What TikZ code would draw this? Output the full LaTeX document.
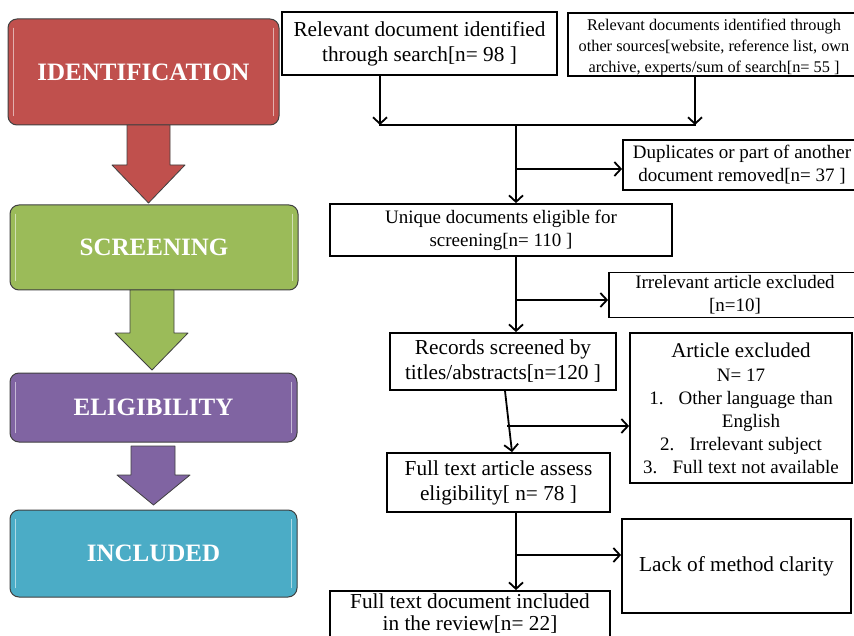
\documentclass[tikz,border=0pt]{standalone}
\usepackage{fontspec}
\setmainfont{Liberation Serif}
\usetikzlibrary{arrows.meta}
\definecolor{stRed}{HTML}{C0504D}
\definecolor{stGreen}{HTML}{9BBB59}
\definecolor{stPurple}{HTML}{8064A2}
\definecolor{stTeal}{HTML}{4BACC6}
\begin{document}
\begin{tikzpicture}[x=1pt,y=-1pt,
  fbox/.style={draw, line width=1.8pt, inner sep=0pt, align=center},
  big/.style={font=\fontsize{21.3}{25}\selectfont},
  mid/.style={font=\fontsize{19}{23}\selectfont},
  small/.style={font=\fontsize{16.3}{21}\selectfont},
  conn/.style={line width=1.8pt},
  arr/.style={line width=1.8pt, -{Straight Barb[length=6.5pt,width=14pt]}},
  stage/.style={rounded corners=9pt, draw=black!75, line width=1pt, text=white,
     font=\fontsize{25}{30}\selectfont\bfseries, inner sep=0pt},
  blockarr/.style={draw=black!75, line width=0.8pt, line join=round},
  gloss/.style={white, opacity=.55, line width=1.5pt, line cap=round}]
\useasboundingbox (0,0) rectangle (854,636);
\fill[white] (0,0) rectangle (854,636);

% ---------- stage boxes ----------
\node[stage, fill=stRed, minimum width=271pt, minimum height=106pt] (id) at (143.5,72) {IDENTIFICATION};
\node[stage, fill=stGreen, minimum width=288pt, minimum height=85pt] (sc) at (154,247.5) {SCREENING};
\node[stage, fill=stPurple, minimum width=287pt, minimum height=69pt] (el) at (153.5,407.5) {ELIGIBILITY};
\node[stage, fill=stTeal, minimum width=287pt, minimum height=87pt] (inc) at (153.5,553.5) {INCLUDED};
\foreach \n in {id,sc,el,inc}{
  \draw[gloss] ([xshift=6pt,yshift=-10pt]\n.north west) -- ([xshift=6pt,yshift=10pt]\n.south west);
  \draw[gloss] ([xshift=-6pt,yshift=-10pt]\n.north east) -- ([xshift=-6pt,yshift=10pt]\n.south east);
}
% ---------- block arrows ----------
\draw[blockarr, fill=stRed] (127,125) -- (170,125) -- (170,165) -- (185,165) -- (148.5,203) -- (112,165) -- (127,165) -- cycle;
\draw[blockarr, fill=stGreen] (130,290) -- (174,290) -- (174,333) -- (188,333) -- (152,370) -- (115,333) -- (130,333) -- cycle;
\draw[blockarr, fill=stPurple] (131,446) -- (175,446) -- (175,475) -- (190,475) -- (153.5,505) -- (117,475) -- (131,475) -- cycle;

% ---------- flow boxes ----------
\node[fbox, big, minimum width=275pt, minimum height=63pt] (b1) at (419.5,43.5)
  {Relevant document identified\\through search[n= 98 ]};
\node[fbox, small, minimum width=292pt, minimum height=63pt] (b2) at (714,44.5)
  {\rule{0pt}{18pt}Relevant documents identified through\\other sources[website, reference list, own\\archive, experts/sum of search[n= 55 ]};
\node[fbox, mid, minimum width=238pt, minimum height=50pt] (dup) at (742,165)
  {Duplicates or part of another\\document removed[n= 37 ]};
\node[fbox, mid, minimum width=342pt, minimum height=52pt] (b3) at (501,230)
  {Unique documents eligible for\\screening[n= 110 ]};
\node[fbox, mid, minimum width=252pt, minimum height=45pt] (irr) at (735,295)
  {Irrelevant article excluded\\{[n=10]}};
\node[fbox, big, minimum width=226pt, minimum height=57pt] (rec) at (503,361.5)
  {Records screened by\\titles/abstracts[n=120 ]};
\node[fbox, mid, minimum width=222pt, minimum height=150pt] (art) at (741,408)
  {{\fontsize{21}{25}\selectfont Article excluded}\\[1pt]
   N= 17\\
   1.\hspace{0.8em}Other language than\\
   \hspace*{20pt}English\\
   2.\hspace{0.8em}Irrelevant subject\\
   3.\hspace{0.8em}Full text not available};
\node[fbox, big, minimum width=223pt, minimum height=59pt] (ft) at (498.5,482.5)
  {Full text article assess\\eligibility[ n= 78 ]};
\node[fbox, big, minimum width=229pt, minimum height=94pt] (lack) at (736.5,566)
  {Lack of method clarity};
\node[fbox, font=\fontsize{21.3}{22.5}\selectfont, minimum width=280pt, minimum height=52pt] (fin) at (470,617)
  {Full text document included\\in the review[n= 22]\rule[-10pt]{0pt}{0pt}};

% ---------- connectors ----------
\coordinate (j1) at (380,125);
\coordinate (j2) at (695,125);
\coordinate (m1) at (516,126);
\coordinate (br1) at (516,169);
\coordinate (br2) at (516,300);
\coordinate (s1) at (505,390);
\coordinate (s2) at (512,453);
\coordinate (br3) at (507,426);
\coordinate (br4) at (516,555);

\draw[arr] (b1.south -| j1) -- (j1);
\draw[arr] (b2.south -| j2) -- (j2);
\draw[conn] ([xshift=-0.9pt]j1) -- ([xshift=0.9pt]j2);
\draw[arr] (m1) -- (b3.north -| m1);
\draw[arr] (br1) -- (dup.west |- br1);
\draw[arr] (b3.south -| m1) -- (rec.north -| m1);
\draw[arr] (br2) -- (irr.west |- br2);
\draw[arr] (rec.south -| s1) -- (ft.north -| s2);
\draw[arr] (br3) -- (art.west |- br3);
\draw[arr] (ft.south -| br4) -- (fin.north -| br4);
\draw[arr] (br4) -- (lack.west |- br4);
\end{tikzpicture}
\end{document}
